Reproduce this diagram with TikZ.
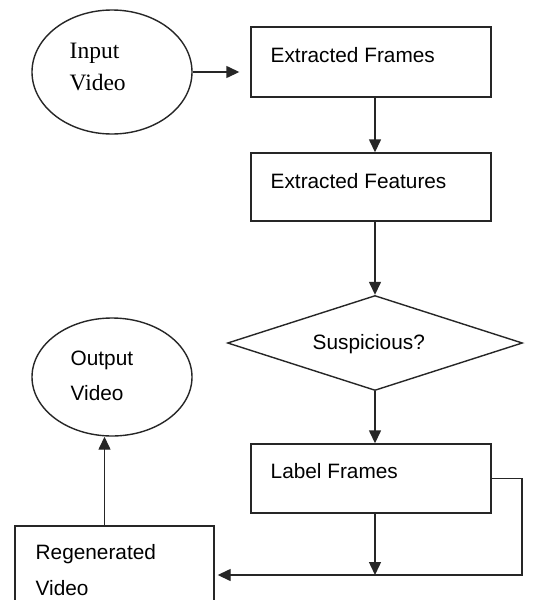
\documentclass[tikz,border=0pt]{standalone}
\usepackage{fontspec}
\setmainfont{Liberation Sans}
\newfontfamily\serifface{Liberation Serif}
\usetikzlibrary{shapes.geometric,arrows.meta,calc}
\begin{document}
\begin{tikzpicture}[x=1pt,y=-1pt,
  line width=1.4pt,
  shapebox/.style={draw=black!85, rectangle, inner sep=0pt, minimum width=240pt, minimum height=70pt},
  oval/.style={draw=black!85, ellipse, inner sep=0pt, minimum width=160pt},
  sanstext/.style={anchor=base west, inner sep=0pt, font=\fontsize{20.8}{24}\selectfont},
  seriftext/.style={anchor=base west, inner sep=0pt, font=\serifface\fontsize{23.5}{27}\selectfont},
  arr/.style={draw=black!85, -{Triangle[length=13pt,width=12pt]}}]
\clip (0,0) rectangle (534,600);
\fill[white] (0,0) rectangle (534,600);
% shapes
\node[oval, minimum height=124pt] (inp) at (112,72) {};
\node[shapebox] (fr) at (371,62) {};
\node[shapebox, minimum height=68pt] (ft) at (371,187) {};
\node[draw=black!85, diamond, inner sep=0pt, minimum width=295pt, minimum height=95pt] (sus) at (375,343) {};
\node[shapebox, minimum height=69pt] (lf) at (371,478.5) {};
\node[oval, minimum height=118pt] (out) at (112,377) {};
\node[draw=black!85, rectangle, inner sep=0pt, minimum width=199pt, minimum height=114pt] (rg) at (114.5,583) {};
% texts
\node[seriftext] (t1) at (69,58) {Input};
\node[seriftext] (t2) at (69,90) {Video};
\node[sanstext] (t3) at (270,62) {Extracted Frames};
\node[sanstext] (t4) at (270,188) {Extracted Features};
\node[sanstext] (t5) at (312,349) {Suspicious?};
\node[sanstext] (t6) at (270,478) {Label Frames};
\node[sanstext] (t7) at (70,365) {Output};
\node[sanstext] (t8) at (70,400) {Video};
\node[sanstext] (t9) at (35,559) {Regenerated};
\node[sanstext] (t10) at (35,595) {Video};
% connectors
\coordinate (c) at (522,575);
\draw[arr, shorten >=11pt] (inp.east) -- (inp.east -| fr.west);
\draw[arr] ([xshift=4pt]fr.south) -- ([xshift=4pt]fr.south |- ft.north);
\draw[arr] ([xshift=4pt]ft.south) -- (sus.north);
\draw[arr] (sus.south) -- ([xshift=4pt]lf.north);
\draw[arr] ([xshift=4pt]lf.south) -- ([xshift=4pt]lf.south |- c);
\draw[arr, shorten >=3pt] (lf.east) -| (c) -- (c -| rg.east);
\draw[arr] ([xshift=-10pt]rg.north) -- ([xshift=-10pt]rg.north |- out.south);
\end{tikzpicture}
\end{document}
